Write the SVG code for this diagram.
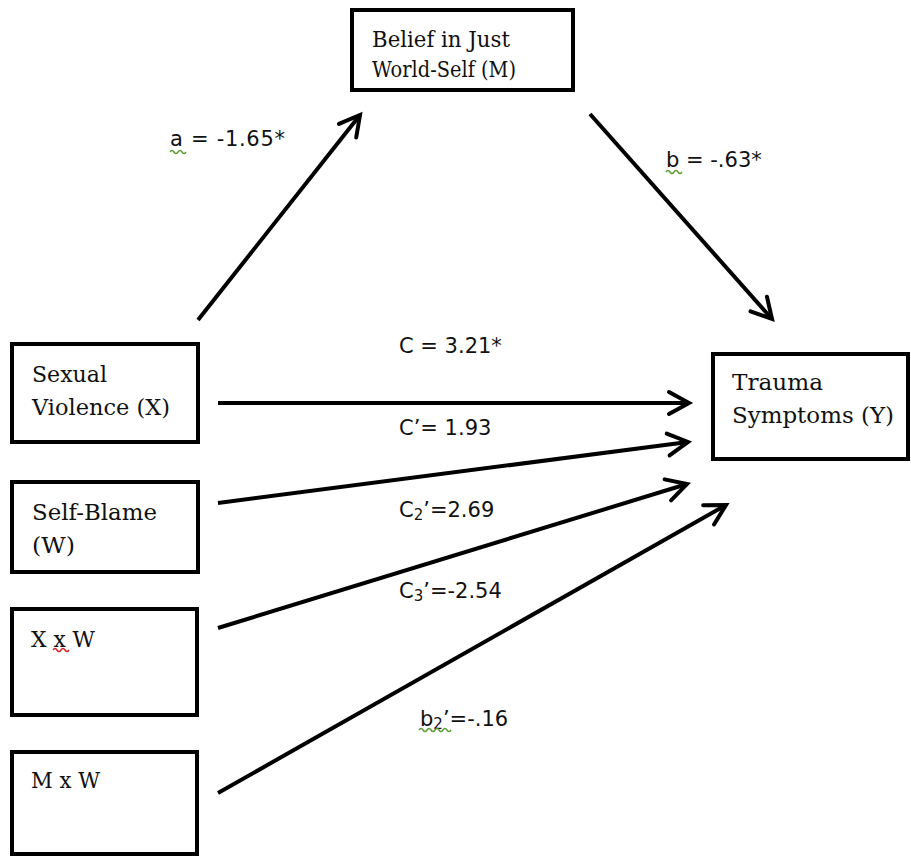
<svg xmlns="http://www.w3.org/2000/svg" width="911" height="856" viewBox="0 0 911 856">
<style>
.box{fill:#fff;stroke:#000;stroke-width:4}
.lbl{font-family:"DejaVu Serif","Liberation Serif",serif;font-size:23px;fill:#111}
.coef{font-family:"DejaVu Sans","Liberation Sans",sans-serif;font-size:21px;fill:#111}
.sub{font-size:15px}
.edge{stroke:#000;stroke-width:4;fill:none;marker-end:url(#arr)}
.sq{fill:none;stroke-width:1.5}
</style>
<defs>
<marker id="arr" markerUnits="userSpaceOnUse" markerWidth="34" markerHeight="34" viewBox="-26 -17 34 34" refX="0" refY="0" orient="auto">
<path d="M-20,-11 L0,0 L-20,11" fill="none" stroke="#000" stroke-width="4" stroke-linecap="round" stroke-linejoin="miter"/>
</marker>
</defs>
<rect width="911" height="856" fill="#fff"/>
<g id="connectors">
<line class="edge" x1="198" y1="320" x2="360" y2="115"/>
<line class="edge" x1="590" y1="114" x2="772" y2="319"/>
<line class="edge" x1="218" y1="403" x2="689" y2="403"/>
<line class="edge" x1="218" y1="503" x2="688" y2="442"/>
<line class="edge" x1="218" y1="628" x2="687" y2="484"/>
<line class="edge" x1="218" y1="793" x2="726" y2="505"/>
</g>
<g id="labels">
<text class="coef" x="170" y="146" textLength="115" lengthAdjust="spacing">a = -1.65*</text>
<path class="sq" stroke="#5a9e32" d="M170,152 q2,-3 4,0 t4,0 t4,0 t4,0"/>
<text class="coef" x="666" y="167">b = -.63*</text>
<path class="sq" stroke="#5a9e32" d="M666,172 q2,-3 4,0 t4,0 t4,0 t4,0"/>
<text class="coef" x="399" y="353">C = 3.21*</text>
<text class="coef" x="399" y="435">C’= 1.93</text>
<text class="coef" x="399" y="517">C<tspan class="sub" dy="3">2</tspan><tspan dy="-3">’=2.69</tspan></text>
<text class="coef" x="399" y="598">C<tspan class="sub" dy="3">3</tspan><tspan dy="-3">’=-2.54</tspan></text>
<text class="coef" x="420" y="726">b<tspan class="sub" dy="3">2</tspan><tspan dy="-3">’=-.16</tspan></text>
<path class="sq" stroke="#5a9e32" d="M419,730 q2,-3 4,0 t4,0 t4,0 t4,0 t4,0 t4,0 t4,0 t4,0"/>
</g>
<g id="node-m">
<rect class="box" x="352" y="10" width="221" height="80"/>
<text class="lbl" x="372" y="47" textLength="138" lengthAdjust="spacingAndGlyphs">Belief in Just</text>
<text class="lbl" x="372" y="77" textLength="144" lengthAdjust="spacingAndGlyphs">World-Self (M)</text>
</g>
<g id="node-x">
<rect class="box" x="12" y="344" width="186" height="98"/>
<text class="lbl" x="32" y="382" textLength="75" lengthAdjust="spacingAndGlyphs">Sexual</text>
<text class="lbl" x="32" y="415" textLength="138" lengthAdjust="spacingAndGlyphs">Violence (X)</text>
</g>
<g id="node-w">
<rect class="box" x="12" y="482" width="186" height="90"/>
<text class="lbl" x="32" y="520" textLength="125" lengthAdjust="spacingAndGlyphs">Self-Blame</text>
<text class="lbl" x="32" y="553" textLength="43" lengthAdjust="spacingAndGlyphs">(W)</text>
</g>
<g id="node-xw">
<rect class="box" x="12" y="609" width="185" height="106"/>
<text class="lbl" x="31" y="647" textLength="64" lengthAdjust="spacingAndGlyphs">X x W</text>
<path class="sq" stroke="#d42020" d="M53,650 q2,-3 4,0 t4,0 t4,0 t4,0"/>
</g>
<g id="node-mw">
<rect class="box" x="12" y="752" width="185" height="102"/>
<text class="lbl" x="31" y="788" textLength="69" lengthAdjust="spacingAndGlyphs">M x W</text>
</g>
<g id="node-y">
<rect class="box" x="713" y="354" width="195" height="105"/>
<text class="lbl" x="732" y="390" textLength="91" lengthAdjust="spacingAndGlyphs">Trauma</text>
<text class="lbl" x="732" y="423" textLength="162" lengthAdjust="spacingAndGlyphs">Symptoms (Y)</text>
</g>
</svg>
